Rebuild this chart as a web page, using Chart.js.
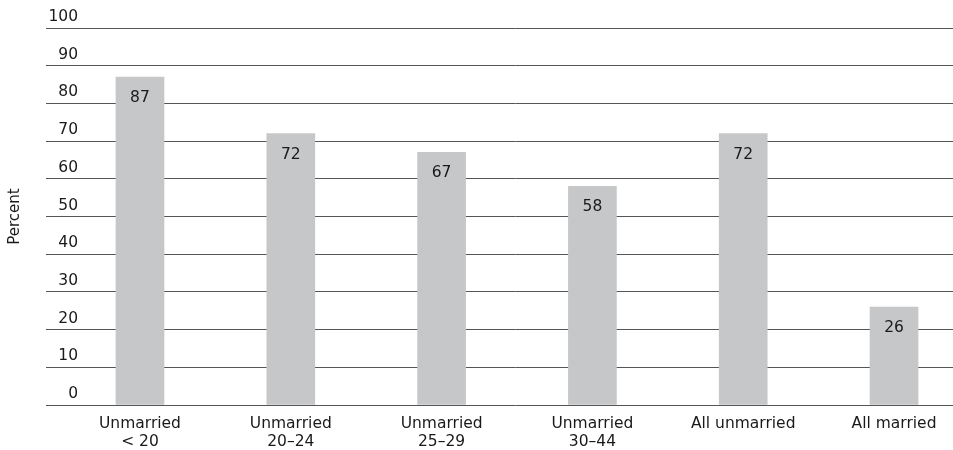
<!DOCTYPE html>
<html>
<head>
<meta charset="utf-8">
<script src="https://cdn.jsdelivr.net/npm/chart.js@4/dist/chart.umd.min.js"></script>
<style>
  html, body { margin: 0; padding: 0; background: #fff; }
  #wrap { width: 953px; height: 450px; position: relative; }
</style>
</head>
<body>
<div id="wrap"><canvas id="chart"></canvas></div>
<script>
// Chart data
const categories = [
    ['Unmarried', '< 20'],
    ['Unmarried', '20\u201324'],
    ['Unmarried', '25\u201329'],
    ['Unmarried', '30\u201344'],
    'All unmarried',
    'All married'
];
const percentValues = [87, 72, 67, 58, 72, 26];
const yTicks = [0, 10, 20, 30, 40, 50, 60, 70, 80, 90, 100];

const FONT = 'DejaVu Sans';
const TEXT = '#1a1a1a';

// labels printed inside the top of each bar
const barValueLabels = {
    id: 'barValueLabels',
    afterDatasetsDraw(chart) {
        const ctx = chart.ctx;
        const meta = chart.getDatasetMeta(0);
        ctx.save();
        ctx.font = '15.5px "' + FONT + '"';
        ctx.fillStyle = TEXT;
        ctx.textAlign = 'center';
        ctx.textBaseline = 'middle';
        meta.data.forEach((bar, i) => {
            ctx.fillText(String(percentValues[i]), bar.x, bar.y + 21);
        });
        ctx.restore();
    }
};

// x range so that bar centres fall where they do in the original
const xMin = -0.411;
const xMax = 5.391;

new Chart(document.getElementById('chart').getContext('2d'), {
    type: 'bar',
    data: {
        datasets: [{
            data: percentValues.map((v, i) => ({ x: i, y: v })),
            backgroundColor: '#c6c7c8',
            borderWidth: 0,
            barThickness: 48
        }]
    },
    options: {
        responsive: true,
        maintainAspectRatio: false,
        animation: false,
        layout: { padding: { top: 28, right: 0, bottom: 0, left: 0 } },
        plugins: {
            legend: { display: false },
            tooltip: { enabled: false }
        },
        scales: {
            x: {
                type: 'linear',
                offset: false,
                min: xMin,
                max: xMax,
                grid: { display: false, drawTicks: false },
                border: { display: false },
                afterBuildTicks: scale => {
                    scale.ticks = categories.map((_, i) => ({ value: i }));
                },
                afterFit: scale => { scale.height = 45; },
                ticks: {
                    autoSkip: false,
                    maxRotation: 0,
                    padding: 10,
                    color: TEXT,
                    font: { family: FONT, size: 15.5, lineHeight: 1.15 },
                    callback: value => categories[value]
                }
            },
            y: {
                min: 0,
                max: 100,
                afterBuildTicks: scale => {
                    scale.ticks = yTicks.map(v => ({ value: v }));
                },
                // tick marks carry the grid lines out to x=46, labels sit above them
                afterFit: scale => { scale.width = 78; },
                grid: { color: '#555', lineWidth: 1, drawTicks: true, tickLength: 32 },
                border: { display: false },
                ticks: {
                    padding: -32,
                    labelOffset: -11,
                    color: TEXT,
                    font: { family: FONT, size: 15.5 }
                },
                title: {
                    display: true,
                    text: 'Percent',
                    color: TEXT,
                    padding: { top: 6, bottom: 0 },
                    font: { family: FONT, size: 15 }
                }
            }
        }
    },
    plugins: [barValueLabels]
});
</script>
</body>
</html>
